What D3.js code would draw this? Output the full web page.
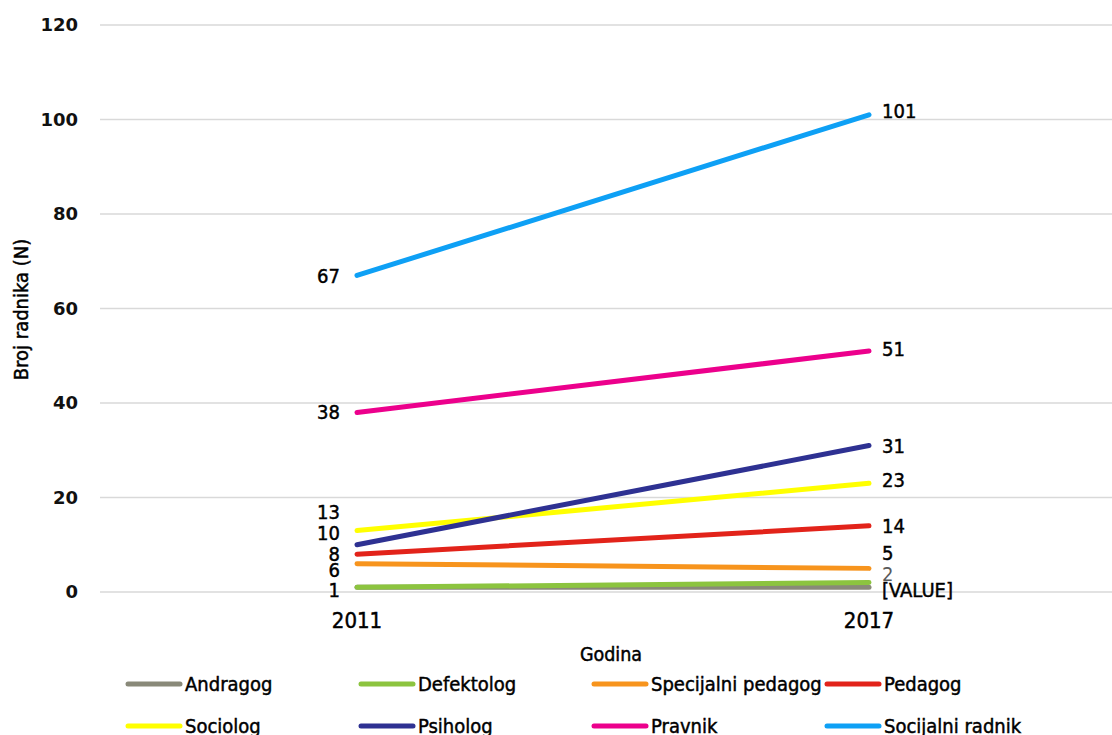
<!DOCTYPE html>
<html>
<head>
<meta charset="utf-8">
<script src="https://cdn.jsdelivr.net/npm/d3@7"></script>
<style>
  body { margin: 0; background: #fff; }
  svg text { font-family: "Liberation Sans Narrow", "DejaVu Sans Condensed", sans-serif; }
  svg text.narrow { stroke: currentColor; stroke-width: 0.45px; }
</style>
</head>
<body>
<div id="chart"></div>
<script>
// chart size
const width = 1112,
  height = 735,
  margins = { top: 25, bottom: 143, left: 101, right: -13 };

// data
const years = ["2011", "2017"];
const seriesNames = ["Andragog", "Defektolog", "Specijalni pedagog", "Pedagog",
  "Sociolog", "Psiholog", "Pravnik", "Socijalni radnik"];
const andragog = [1, 1];
const defektolog = [1, 2];
const specijalniPedagog = [6, 5];
const pedagog = [8, 14];
const sociolog = [13, 23];
const psiholog = [10, 31];
const pravnik = [38, 51];
const socijalniRadnik = [67, 101];
const yTicks = [0, 20, 40, 60, 80, 100, 120];

const seriesValues = [andragog, defektolog, specijalniPedagog, pedagog,
  sociolog, psiholog, pravnik, socijalniRadnik];

const colors = ["#898979", "#8cc43f", "#f7941d", "#e2231a",
  "#ffff00", "#2e3192", "#ec008c", "#0ea0f5"];

// label nudges so the small values don't overlap (px, [2011, 2017])
const labelNudge = {
  "Andragog": [0, 3],
  "Defektolog": [3, -9],
  "Specijalni pedagog": [6, -15],
  "Pedagog": [0, 0],
  "Sociolog": [-19, -3],
  "Psiholog": [-12, 0],
  "Pravnik": [0, -2],
  "Socijalni radnik": [1, -4]
};

const data = seriesNames.map((name, i) => ({
  name: name,
  color: colors[i],
  values: years.map((y, j) => ({ year: y, value: seriesValues[i][j] }))
}));

const svg = d3.select("#chart")
  .append("svg")
  .attr("width", width)
  .attr("height", height);

const xScale = d3.scalePoint()
  .domain(years)
  .range([margins.left, width - margins.right])
  .padding(0.5);

const yScale = d3.scaleLinear()
  .domain([0, 120])
  .range([height - margins.bottom, margins.top]);

// gridlines
svg.append("g")
  .selectAll("line")
  .data(yTicks)
  .join("line")
  .attr("x1", margins.left - 1)
  .attr("x2", width)
  .attr("y1", d => yScale(d))
  .attr("y2", d => yScale(d))
  .attr("stroke", "#d9d9d9")
  .attr("stroke-width", 1.3);

// y tick labels
svg.append("g")
  .selectAll("text")
  .data(yTicks)
  .join("text")
  .attr("x", 78)
  .attr("y", d => yScale(d))
  .attr("dy", "0.35em")
  .attr("text-anchor", "end")
  .style("font-family", "'DejaVu Sans', sans-serif")
  .style("font-weight", "bold")
  .style("font-size", "18px")
  .attr("fill", "#111")
  .text(d => d);

// x tick labels
svg.append("g")
  .selectAll("text")
  .data(years)
  .join("text")
  .attr("class", "narrow")
  .attr("x", d => xScale(d))
  .attr("y", 620)
  .attr("dy", "0.35em")
  .attr("text-anchor", "middle")
  .style("font-size", "22px")
  .style("color", "#000")
  .attr("fill", "#000")
  .text(d => d);

// axis titles
svg.append("text")
  .attr("class", "narrow")
  .attr("transform", `translate(${width / 2 + 55},654)`)
  .attr("dy", "0.35em")
  .attr("text-anchor", "middle")
  .style("font-size", "19.5px")
  .style("color", "#000")
  .text("Godina");

svg.append("text")
  .attr("class", "narrow")
  .attr("transform", `translate(21,${(yScale(0) + yScale(120)) / 2 + 1})rotate(270)`)
  .attr("dy", "0.35em")
  .attr("text-anchor", "middle")
  .style("font-size", "20px")
  .style("color", "#000")
  .text("Broj radnika (N)");

// lines
const line = d3.line()
  .x(d => xScale(d.year))
  .y(d => yScale(d.value));

svg.append("g")
  .selectAll("path")
  .data(data)
  .join("path")
  .attr("d", d => line(d.values))
  .attr("fill", "none")
  .attr("stroke", d => d.color)
  .attr("stroke-width", 5)
  .attr("stroke-linecap", "round");

// data labels
data.forEach(s => {
  s.values.forEach((v, j) => {
    if (s.name === "Andragog" && j === 0) return; // hidden under Defektolog
    let label = v.value;
    if (s.name === "Andragog") label = "[VALUE]";
    const isLeft = j === 0;
    const isGrey = s.name === "Defektolog" && j === 1;
    svg.append("text")
      .attr("class", isGrey ? null : "narrow")
      .attr("x", isLeft ? xScale(v.year) - 17 : xScale(v.year) + 13)
      .attr("y", yScale(v.value) + labelNudge[s.name][j])
      .attr("dy", "0.35em")
      .attr("text-anchor", isLeft ? "end" : "start")
      .style("font-size", "20px")
      .style("color", "#000")
      .attr("fill", isGrey ? "#595959" : "#000")
      .text(label);
  });
});

// legend
const legendCols = [126, 359, 592, 825];
const legendRows = [684, 726];
const legend = svg.append("g")
  .selectAll("g")
  .data(data)
  .join("g")
  .attr("transform", (d, i) => `translate(${legendCols[i % 4]},${legendRows[Math.floor(i / 4)]})`);

legend.append("line")
  .attr("x1", 2)
  .attr("x2", 54)
  .attr("stroke", d => d.color)
  .attr("stroke-width", 5)
  .attr("stroke-linecap", "round");

legend.append("text")
  .attr("class", "narrow")
  .attr("x", 59)
  .attr("dy", "0.35em")
  .style("font-size", "20px")
  .style("color", "#000")
  .attr("fill", "#000")
  .text(d => d.name);
</script>
</body>
</html>
